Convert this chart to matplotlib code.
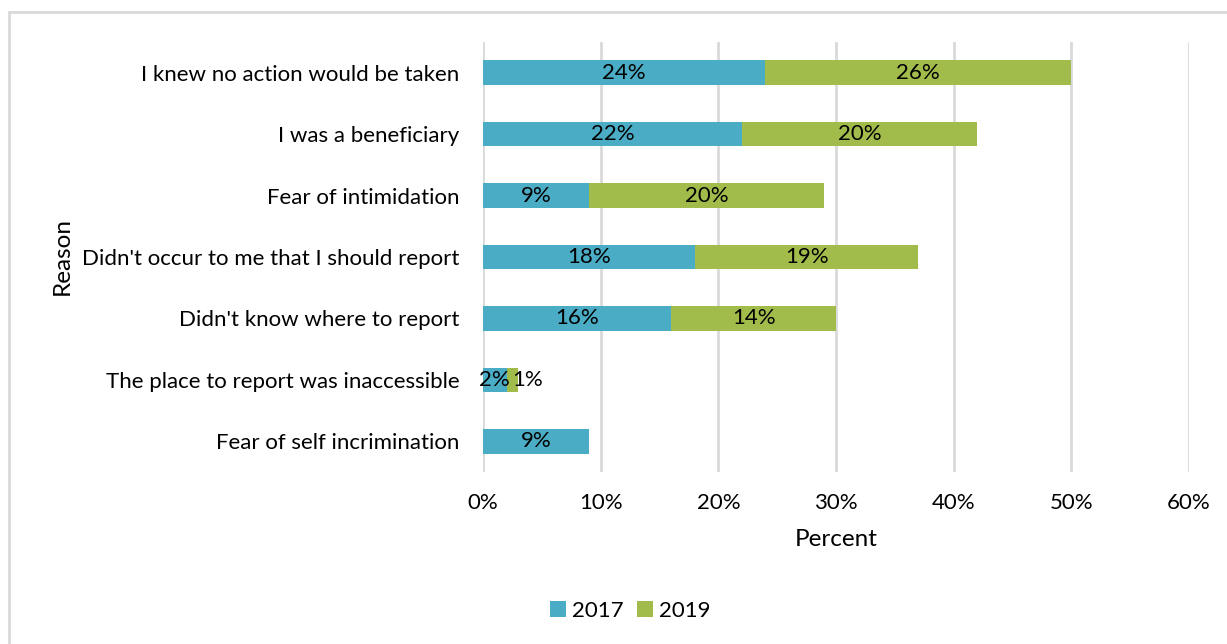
import matplotlib
matplotlib.use("Agg")
import matplotlib.pyplot as plt
from matplotlib.patches import Rectangle

reasons = [
    "I knew no action would be taken",
    "I was a beneficiary",
    "Fear of intimidation",
    "Didn't occur to me that I should report",
    "Didn't know where to report",
    "The place to report was inaccessible",
    "Fear of self incrimination",
]
pct_2017 = [24, 22, 9, 18, 16, 2, 9]
pct_2019 = [26, 20, 20, 19, 14, 1, 0]
x_ticks = [0, 10, 20, 30, 40, 50, 60]

BLUE = "#4BACC6"
GREEN = "#A2BC4C"
GRID = "#D9D9D9"
FONT = "Lato"
FS = 16

plt.rcParams["font.family"] = [FONT, "DejaVu Sans"]

fig = plt.figure(figsize=(12.27, 6.44), dpi=100)
fig.patch.set_facecolor("white")

# outer chart-area frame
fig.patches.append(Rectangle((9 / 1227, -0.1), 1.2, 1 - 12 / 644 + 0.1,
                             transform=fig.transFigure, fill=False,
                             edgecolor=GRID, linewidth=2.0, clip_on=False))

ax = fig.add_axes([483 / 1227, 1 - 472 / 644, (1189 - 483) / 1227, (472 - 42) / 644])
ypos = list(range(len(reasons)))
h = 0.4
b1 = ax.barh(ypos, pct_2017, height=h, color=BLUE, label="2017", zorder=3)
b2 = ax.barh(ypos, pct_2019, height=h, left=pct_2017, color=GREEN, label="2019", zorder=3)

for i, (a, b) in enumerate(zip(pct_2017, pct_2019)):
    if a > 0:
        ax.text(a / 2, i, f"{a}%", ha="center", va="center", fontsize=FS, zorder=4)
    if b > 0:
        if b < 2:
            ax.text(a + b - 0.5, i, f"{b}%", ha="left", va="center", fontsize=FS, zorder=4)
        else:
            ax.text(a + b / 2, i, f"{b}%", ha="center", va="center", fontsize=FS, zorder=4)

ax.set_xlim(0, 60)
ax.set_ylim(len(reasons) - 0.5, -0.5)
ax.set_xticks(x_ticks)
ax.set_xticklabels([f"{t}%" for t in x_ticks], fontsize=FS)
ax.set_yticks(ypos)
ax.set_yticklabels(reasons, fontsize=FS)
ax.tick_params(length=0)
ax.tick_params(axis="x", pad=15)
ax.tick_params(axis="y", pad=17)
ax.grid(axis="x", color=GRID, linewidth=2, zorder=0)
for s in ax.spines.values():
    s.set_visible(False)

ax.set_xlabel("Percent", fontsize=17.5, labelpad=12)
fig.text(62 / 1227, 1 - 256 / 644, "Reason", rotation=90, ha="center", va="center", fontsize=17.5)

fig.legend(handles=[b1, b2], labels=["2017", "2019"], loc="center",
           bbox_to_anchor=(630 / 1227, 1 - 611 / 644), ncol=2, frameon=False,
           fontsize=FS, handlelength=0.75, handleheight=0.75, handletextpad=0.25,
           columnspacing=0.6)

fig.savefig("out.png", dpi=100, facecolor="white")
